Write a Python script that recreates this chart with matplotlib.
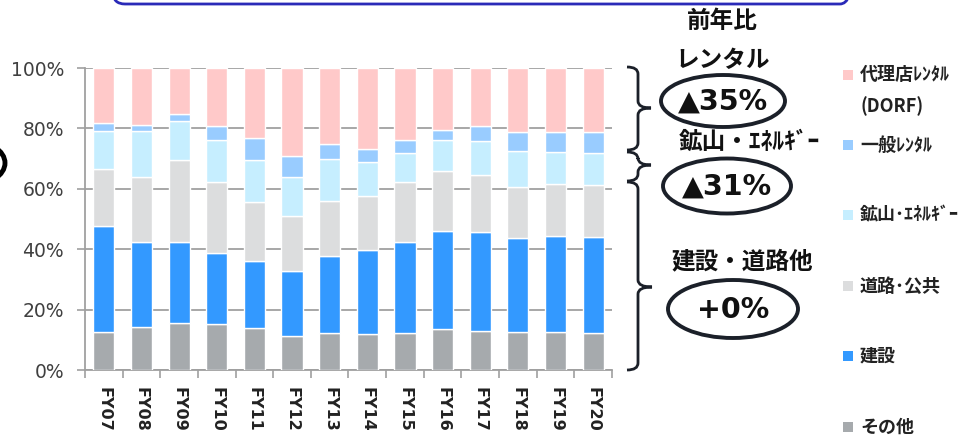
import numpy as np
import matplotlib
matplotlib.use("Agg")
import matplotlib.pyplot as plt
from matplotlib.patches import Ellipse, FancyBboxPatch, Rectangle, PathPatch
from matplotlib.path import Path

plt.rcParams['font.family'] = ['DejaVu Sans', 'Noto Sans CJK JP']
JP = ['Noto Sans CJK JP', 'DejaVu Sans']

years = ['FY07', 'FY08', 'FY09', 'FY10', 'FY11', 'FY12', 'FY13',
         'FY14', 'FY15', 'FY16', 'FY17', 'FY18', 'FY19', 'FY20']

# shares in % (bottom to top)
other = [12.7, 14.2, 15.4, 15.1, 13.8, 11.2, 12.1, 11.8, 12.3, 13.5, 12.9, 12.6, 12.7, 12.3]
construction = [34.9, 28.2, 27.0, 23.7, 22.4, 21.7, 25.7, 28.1, 30.1, 32.6, 32.9, 31.0, 31.6, 31.8]
road = [18.8, 21.4, 27.3, 23.4, 19.4, 18.1, 18.3, 17.7, 20.0, 19.7, 18.7, 17.0, 17.2, 17.2]
mining = [12.7, 15.5, 12.9, 13.9, 14.1, 12.8, 13.8, 11.2, 9.5, 10.2, 11.2, 11.9, 10.7, 10.4]
general = [2.8, 1.8, 2.3, 4.8, 7.0, 7.0, 5.1, 4.4, 4.2, 3.6, 5.0, 6.4, 6.7, 7.2]
dealer = [18.1, 18.9, 15.1, 19.1, 23.3, 29.2, 25.0, 26.8, 23.9, 20.4, 19.3, 21.1, 21.1, 21.1]

series = [other, construction, road, mining, general, dealer]
names = ['その他', '建設', '道路･公共', '鉱山･ｴﾈﾙｷﾞｰ', '一般ﾚﾝﾀﾙ', '代理店ﾚﾝﾀﾙ\n(DORF)']
colors = ['#A6AAAD', '#3399FF', '#DCDDDE', '#C6EEFF', '#99CCFF', '#FFC9C9']

fig = plt.figure(figsize=(9.65, 4.36), dpi=100)
ax = fig.add_axes([85 / 965, 66 / 436, 527 / 965, 302 / 436])

x = np.arange(len(years))
bottom = np.zeros(len(years))
for vals, c in zip(series, colors):
    ax.bar(x, vals, 0.56, bottom=bottom, color=c, edgecolor='white', linewidth=1, zorder=3)
    bottom += np.array(vals)

ax.set_xlim(-0.5, len(years) - 0.5)
ax.set_ylim(0, 100)
ax.set_yticks([0, 20, 40, 60, 80, 100])
ax.set_yticklabels(['0%', '20%', '40%', '60%', '80%', '100%'], fontsize=13.5, color='#404040')
ax.yaxis.grid(True, color='#A0A0A0', linewidth=1.3, zorder=0)
ax.tick_params(axis='y', length=6, color='#A0A0A0', width=1.2, pad=9)
ax.set_xticks(x)
ax.set_xticklabels(years, rotation=270, fontsize=11.5, fontweight='bold', color='#222222')
ax.set_xticks(np.arange(-0.5, len(years)), minor=True)
ax.tick_params(axis='x', which='major', length=0, pad=12)
ax.tick_params(axis='x', which='minor', length=6, color='#A0A0A0', width=1.2)
for s in ['top', 'right']:
    ax.spines[s].set_visible(False)
for s in ['left', 'bottom']:
    ax.spines[s].set_color('#A0A0A0')
    ax.spines[s].set_linewidth(1.3)

# overlay in pixel coordinates for annotations
ov = fig.add_axes([0, 0, 1, 1], facecolor='none')
ov.set_xlim(0, 965)
ov.set_ylim(436, 0)
ov.axis('off')

dark = '#1B2029'
ov.add_patch(FancyBboxPatch((113, -40), 739, 44, boxstyle='round,pad=0,rounding_size=12',
                            fc='none', ec='#2A2AB8', lw=2))
ov.add_patch(Ellipse((-30, 163), 70, 45, fc='none', ec='black', lw=3.5))


def brace(x0, xs, x1, ytop, ytip, ybot, r=7):
    verts = [(x0, ytop), (xs, ytop), (xs, ytop + r),
             (xs, ytip - r), (xs, ytip), (x1, ytip),
             (xs, ytip), (xs, ytip + r),
             (xs, ybot - r), (xs, ybot), (x0, ybot)]
    codes = [Path.MOVETO, Path.CURVE3, Path.CURVE3,
             Path.LINETO, Path.CURVE3, Path.CURVE3,
             Path.CURVE3, Path.CURVE3,
             Path.LINETO, Path.CURVE3, Path.CURVE3]
    ov.add_patch(PathPatch(Path(verts, codes), fc='none', ec=dark, lw=2))


brace(627, 638, 651, 67, 108, 150)
brace(627, 638, 651, 152, 165, 181)
brace(627, 638, 652, 182, 287, 370)

ov.text(722, 21, '前年比', family=JP, fontsize=17, fontweight='bold', ha='center', va='center', color='#111111')
ov.text(723, 60, 'レンタル', family=JP, fontsize=17, fontweight='bold', ha='center', va='center', color='#111111')
ov.text(749, 142, '鉱山・ｴﾈﾙｷﾞｰ', family=JP, fontsize=17, fontweight='bold', ha='center', va='center', color='#111111')
ov.text(742, 261, '建設・道路他', family=JP, fontsize=17, fontweight='bold', ha='center', va='center', color='#111111')

for (cx, cy, w, h), t in zip([(723, 101, 124, 52), (727, 186, 128, 55), (733, 309, 130, 58)],
                             ['▲35%', '▲31%', '+0%']):
    ov.add_patch(Ellipse((cx, cy), w, h, fc='none', ec=dark, lw=2.8))
    ov.text(cx, cy + 1, t, fontsize=20.5, fontweight='bold', ha='center', va='center', color='#111111')

# legend
leg_y = [427, 356, 286, 215, 145, 75]
for name, c, y in zip(names, colors, leg_y):
    ov.add_patch(Rectangle((843, y - 5), 10, 10, fc=c, ec='none'))
    lines = name.split('\n')
    for i, ln in enumerate(lines):
        ov.text(860, y + i * 31, ln, family=JP, fontsize=13, fontweight='bold',
                ha='left', va='center', color='#222222')

fig.savefig('out.png', dpi=100)
